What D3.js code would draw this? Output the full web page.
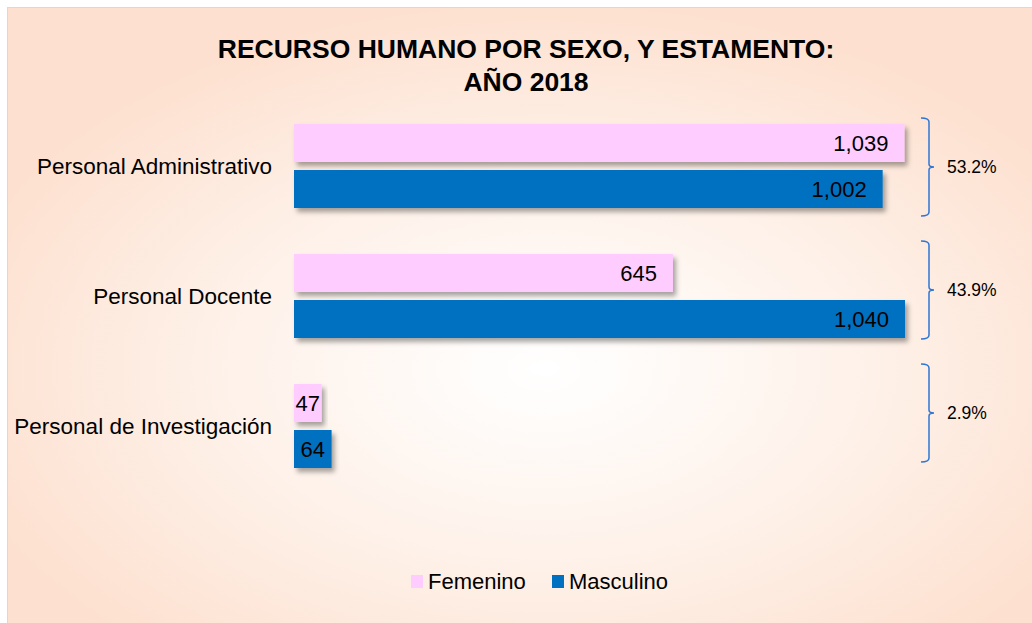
<!DOCTYPE html>
<meta charset="utf-8">
<style type="text/css">
body { margin: 0; background: #ffffff; font-family: Arial, 'Liberation Sans', sans-serif; }
.title { font-weight: bold; font-size: 26.5px; fill: #000; }
.cat { font-size: 22.5px; fill: #000; }
.val { font-size: 22px; fill: #000; }
.pct { font-size: 17.5px; fill: #000; }
.leg { font-size: 22px; fill: #000; }
</style>
<body>
<div class="g-chart"></div>
<script src="https://cdnjs.cloudflare.com/ajax/libs/d3/7.8.5/d3.min.js"></script>
<script type="text/javascript">

// data
var categories = ["Personal Administrativo", "Personal Docente", "Personal de Investigación"];
var seriesNames = ["Femenino", "Masculino"];
var femenino = [1039, 645, 47];
var masculino = [1002, 1040, 64];
var seriesColors = ["#ffccff", "#0070c0"];

var width = 1032, height = 623;

var svg = d3.select(".g-chart").append("svg")
  .attr("width", width)
  .attr("height", height);

var defs = svg.append("defs");

// background gradient
var grad = defs.append("radialGradient")
  .attr("id", "bg")
  .attr("cx", "52%").attr("cy", "58%").attr("r", "60%");
grad.append("stop").attr("offset", "0%").attr("stop-color", "#ffffff");
grad.append("stop").attr("offset", "50%").attr("stop-color", "#fef2ea");
grad.append("stop").attr("offset", "100%").attr("stop-color", "#fde0cf");

// bar shadow
var shadow = defs.append("filter").attr("id", "shadow")
  .attr("x", "-10%").attr("y", "-20%").attr("width", "130%").attr("height", "160%");
shadow.append("feDropShadow")
  .attr("dx", 3).attr("dy", 4).attr("stdDeviation", 2.5)
  .attr("flood-color", "#000").attr("flood-opacity", 0.35);

svg.append("rect")
  .attr("x", 7.5).attr("y", 7.5)
  .attr("width", width).attr("height", height)
  .attr("fill", "url(#bg)")
  .attr("stroke", "#d9d9d9");

// title
svg.append("text").attr("class", "title")
  .attr("x", 526).attr("y", 58).attr("text-anchor", "middle")
  .text("RECURSO HUMANO POR SEXO, Y ESTAMENTO:");
svg.append("text").attr("class", "title")
  .attr("x", 526).attr("y", 91).attr("text-anchor", "middle")
  .text("AÑO 2018");

// scales
var x = d3.scaleLinear().domain([0, 1040]).range([294, 905]);
var y0 = d3.scaleBand().domain(categories).range([101, 491]);
var y1 = d3.scaleBand().domain(seriesNames).range([23, 107]).paddingInner(0.174);
var color = d3.scaleOrdinal().domain(seriesNames).range(seriesColors);

var rows = categories.map(function(c, i) {
  return { cat: c, values: [
    { key: "Femenino", value: femenino[i] },
    { key: "Masculino", value: masculino[i] }
  ]};
});

var groups = svg.append("g").selectAll("g")
  .data(rows)
  .enter().append("g")
  .attr("transform", function(d) { return "translate(0," + y0(d.cat) + ")"; });

groups.selectAll("rect")
  .data(function(d) { return d.values; })
  .enter().append("rect")
  .attr("x", x(0))
  .attr("y", function(d) { return y1(d.key); })
  .attr("width", function(d) { return x(d.value) - x(0); })
  .attr("height", y1.bandwidth())
  .attr("fill", function(d) { return color(d.key); })
  .attr("filter", "url(#shadow)");

var fmt = d3.format(",");
groups.selectAll("text.val")
  .data(function(d) { return d.values; })
  .enter().append("text")
  .attr("class", "val")
  .attr("x", function(d) {
    var w = x(d.value) - x(0);
    return w < 60 ? x(0) + w / 2 : x(d.value) - 16;
  })
  .attr("text-anchor", function(d) { return (x(d.value) - x(0)) < 60 ? "middle" : "end"; })
  .attr("y", function(d) { return y1(d.key) + y1.bandwidth() / 2 + 8; })
  .text(function(d) { return fmt(d.value); });

// category labels
groups.append("text")
  .attr("class", "cat")
  .attr("x", 272)
  .attr("y", y0.bandwidth() / 2 + 8)
  .attr("text-anchor", "end")
  .text(function(d) { return d.cat; });

// brackets with share of total
var total = d3.sum(femenino) + d3.sum(masculino);
var pctFmt = d3.format(".1%");
var yb = d3.scalePoint().domain(categories).range([167, 413]);
var bx = 929;

var brackets = svg.append("g").selectAll("g")
  .data(rows)
  .enter().append("g")
  .attr("transform", function(d) { return "translate(0," + yb(d.cat) + ")"; });

brackets.append("path")
  .attr("fill", "none")
  .attr("stroke", "#2e75d6")
  .attr("stroke-width", 1.5)
  .attr("d", "M" + (bx - 8) + ",-49 Q" + bx + ",-49 " + bx + ",-45 L" + bx + ",-3 Q" + bx + ",0 " + (bx + 5) + ",0 Q" + bx + ",0 " + bx + ",3 L" + bx + ",45 Q" + bx + ",49 " + (bx - 8) + ",49");

brackets.append("text")
  .attr("class", "pct")
  .attr("x", 947)
  .attr("y", 6)
  .text(function(d) { return pctFmt((d.values[0].value + d.values[1].value) / total); });

// legend
var legX = [411, 552];
var legend = svg.append("g").selectAll("g")
  .data(seriesNames)
  .enter().append("g")
  .attr("transform", function(d, i) { return "translate(" + legX[i] + ",575)"; });
legend.append("rect")
  .attr("width", 12).attr("height", 13)
  .attr("fill", function(d) { return color(d); });
legend.append("text")
  .attr("class", "leg")
  .attr("x", 17).attr("y", 14)
  .text(function(d) { return d; });

</script>
</body>
